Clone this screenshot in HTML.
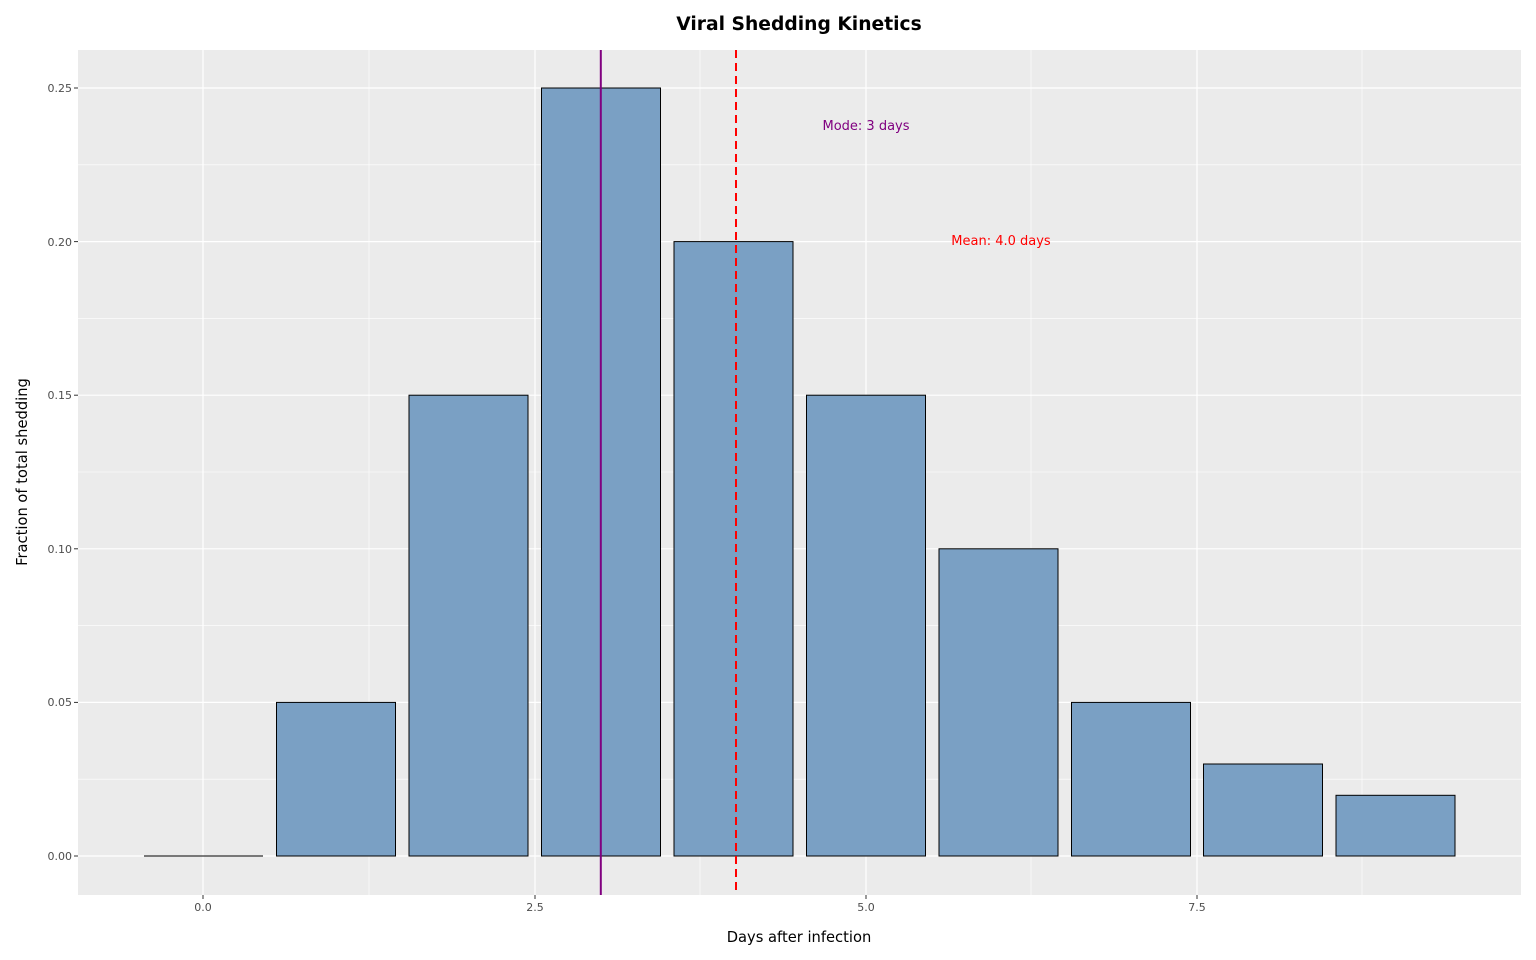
<!DOCTYPE html>
<html><head><meta charset="utf-8"><style>body{margin:0;background:#fff}svg{display:block}</style></head><body>
<svg width="1536" height="960" xmlns="http://www.w3.org/2000/svg" font-family="DejaVu Sans, Liberation Sans, sans-serif">
<rect width="1536" height="960" fill="#fff"/>
<rect x="78" y="50" width="1443" height="845" fill="#EBEBEB"/>
<g stroke="#fff" stroke-width="0.6">
<line x1="369" y1="50" x2="369" y2="895"/><line x1="700" y1="50" x2="700" y2="895"/><line x1="1031" y1="50" x2="1031" y2="895"/><line x1="1362" y1="50" x2="1362" y2="895"/>
<line x1="78" y1="779.2" x2="1521" y2="779.2"/><line x1="78" y1="625.6" x2="1521" y2="625.6"/><line x1="78" y1="472" x2="1521" y2="472"/><line x1="78" y1="318.4" x2="1521" y2="318.4"/><line x1="78" y1="164.8" x2="1521" y2="164.8"/>
</g>
<g stroke="#fff" stroke-width="1.2">
<line x1="203" y1="50" x2="203" y2="895"/><line x1="535" y1="50" x2="535" y2="895"/><line x1="866" y1="50" x2="866" y2="895"/><line x1="1197" y1="50" x2="1197" y2="895"/>
<line x1="78" y1="856" x2="1521" y2="856"/><line x1="78" y1="702.4" x2="1521" y2="702.4"/><line x1="78" y1="548.8" x2="1521" y2="548.8"/><line x1="78" y1="395.2" x2="1521" y2="395.2"/><line x1="78" y1="241.6" x2="1521" y2="241.6"/><line x1="78" y1="88" x2="1521" y2="88"/>
</g>
<g fill="#7AA0C4" stroke="#000" stroke-width="1">
<line x1="144" y1="856" x2="263" y2="856"/>
<rect x="276.5" y="702.4" width="119" height="153.6"/>
<rect x="409" y="395.2" width="119" height="460.8"/>
<rect x="541.5" y="88" width="119" height="768"/>
<rect x="674" y="241.6" width="119" height="614.4"/>
<rect x="806.5" y="395.2" width="119" height="460.8"/>
<rect x="939" y="548.8" width="119" height="307.2"/>
<rect x="1071.5" y="702.4" width="119" height="153.6"/>
<rect x="1203.5" y="764" width="119" height="92"/>
<rect x="1336" y="795.3" width="119" height="60.7"/>
</g>
<line x1="600.8" y1="50" x2="600.8" y2="895" stroke="#800080" stroke-width="2"/>
<line x1="736" y1="50" x2="736" y2="895" stroke="#f00" stroke-width="2" stroke-dasharray="8,5"/>
<text x="866" y="130" font-size="13" fill="#800080" text-anchor="middle">Mode: 3 days</text>
<text x="1001" y="245" font-size="13" fill="#f00" text-anchor="middle">Mean: 4.0 days</text>
<g font-size="11" fill="#4D4D4D" text-anchor="end">
<text x="72" y="860">0.00</text><text x="72" y="706">0.05</text><text x="72" y="553">0.10</text><text x="72" y="399">0.15</text><text x="72" y="246">0.20</text><text x="72" y="92">0.25</text>
</g>
<g stroke="#333" stroke-width="1">
<line x1="74" y1="856" x2="78" y2="856"/><line x1="74" y1="702.4" x2="78" y2="702.4"/><line x1="74" y1="548.8" x2="78" y2="548.8"/><line x1="74" y1="395.2" x2="78" y2="395.2"/><line x1="74" y1="241.6" x2="78" y2="241.6"/><line x1="74" y1="88" x2="78" y2="88"/>
<line x1="203" y1="895" x2="203" y2="899"/><line x1="535" y1="895" x2="535" y2="899"/><line x1="866" y1="895" x2="866" y2="899"/><line x1="1197" y1="895" x2="1197" y2="899"/>
</g>
<g font-size="11" fill="#4D4D4D" text-anchor="middle">
<text x="203" y="911">0.0</text><text x="535" y="911">2.5</text><text x="866" y="911">5.0</text><text x="1197" y="911">7.5</text>
</g>
<text x="799" y="942" font-size="14.7" text-anchor="middle">Days after infection</text>
<text transform="translate(27,472) rotate(-90)" font-size="14.7" text-anchor="middle">Fraction of total shedding</text>
<text x="799" y="30" font-size="18.7" font-weight="bold" text-anchor="middle">Viral Shedding Kinetics</text>
</svg>
</body></html>
